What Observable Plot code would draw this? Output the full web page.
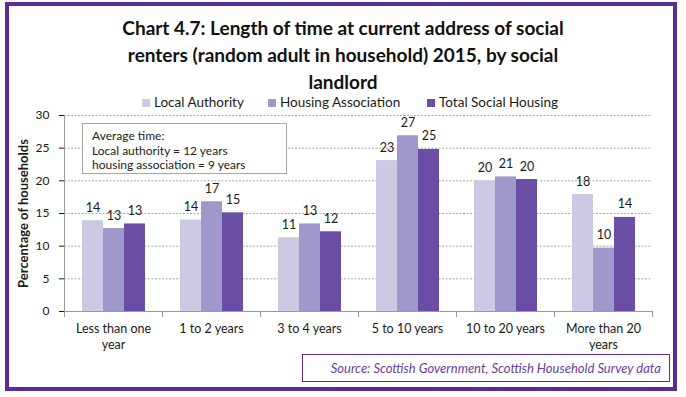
<!DOCTYPE html>
<html>
<head>
<meta charset="utf-8">
<script src="https://cdn.jsdelivr.net/npm/d3@7"></script>
<script src="https://cdn.jsdelivr.net/npm/@observablehq/plot@0.6"></script>
<style>
  html, body { margin: 0; padding: 0; background: #fff; }
  #card { position: relative; width: 686px; height: 397px; background: #fff; font-family: Lato, "Open Sans", sans-serif; color: #1a1a1a; overflow: hidden; }
  #border { position: absolute; left: 5px; top: 2px; width: 672px; height: 389px; box-sizing: border-box; border: 4px solid #5A2D96; }
  #title { position: absolute; left: 5px; width: 676px; top: 14px; text-align: center; font-weight: bold; font-size: 19px; line-height: 27px; color: #111; }
  #legend { position: absolute; top: 94px; left: 0; width: 686px; height: 16px; font-size: 13.5px; }
  .li { position: absolute; top: 0; white-space: nowrap; line-height: 16px; }
  .sw { display: inline-block; width: 8px; height: 8px; margin-right: 4px; vertical-align: 0px; }
  #chart { position: absolute; left: 0; top: 105px; }
  #note { position: absolute; left: 82px; top: 123px; width: 205px; height: 51px; box-sizing: border-box; border: 1.5px solid #a6a6a6; background: #fff; font-size: 12px; line-height: 14.5px; padding: 5px 0 0 9px; color: #222; white-space: nowrap; }
  #source { position: absolute; left: 302px; top: 354px; width: 368px; height: 28px; box-sizing: border-box; border: 1.5px solid #5A2D96; font-size: 13px; font-style: italic; color: #6A3FA0; text-align: right; padding: 5px 8px 0 0; white-space: nowrap; }
  svg [aria-label="y-axis label"] text, svg [aria-label="y-axis label"] { font-weight: bold; font-size: 13px; }
</style>
</head>
<body>
<div id="card">
  <div id="border"></div>
  <div id="title"></div>
  <div id="legend"></div>
  <div id="chart"></div>
  <div id="note"></div>
  <div id="source"></div>
</div>
<script>
// ---- data ----
const titleLines = ["Chart 4.7: Length of time at current address of social", "renters (random adult in household) 2015, by social", "landlord"];
const categories = ["Less than one year", "1 to 2 years", "3 to 4 years", "5 to 10 years", "10 to 20 years", "More than 20 years"];
const tickLabels = ["Less than one\nyear", "1 to 2 years", "3 to 4 years", "5 to 10 years", "10 to 20 years", "More than 20\nyears"];
const series = ["Local Authority", "Housing Association", "Total Social Housing"];
const localAuthority = [13.9, 14.0, 11.3, 23.1, 20.0, 17.9];
const housingAssociation = [12.7, 16.8, 13.4, 26.9, 20.6, 9.7];
const totalSocialHousing = [13.4, 15.1, 12.2, 24.8, 20.2, 14.4];
const yTicks = [0, 5, 10, 15, 20, 25, 30];
const colors = ["#CCC9E4", "#A098CA", "#6A4EA5"];
const yLabel = "Percentage of households";
const noteLines = ["Average time:", "Local authority = 12 years", "housing association = 9 years"];
const sourceText = "Source: Scottish Government, Scottish Household Survey data";

// ---- table ----
const valuesBySeries = [localAuthority, housingAssociation, totalSocialHousing];
const data = [];
categories.forEach((c, i) => series.forEach((s, j) => data.push({category: c, series: s, value: valuesBySeries[j][i]})));
const tickLabelOf = new Map(categories.map((c, i) => [c, tickLabels[i]]));

// ---- html text ----
document.getElementById("title").innerHTML = titleLines.join("<br>");
document.getElementById("note").innerHTML = noteLines.join("<br>");
document.getElementById("source").textContent = sourceText;
const legendLefts = [142, 268, 427];
const legend = document.getElementById("legend");
series.forEach((s, j) => {
  const item = document.createElement("div");
  item.className = "li";
  item.style.left = legendLefts[j] + "px";
  item.innerHTML = `<span class="sw" style="background:${colors[j]}"></span>${s}`;
  legend.appendChild(item);
});

// ---- chart ----
const W = 686, H = 255, mT = 10, mB = 49, mL = 64, mR = 34;
const plotH = H - mT - mB;
const axisColor = "#9a9a9a";

const chart = Plot.plot({
  width: W,
  height: H,
  marginTop: mT,
  marginBottom: mB,
  marginLeft: mL,
  marginRight: mR,
  style: {fontFamily: "Lato, 'Open Sans', sans-serif", fontSize: "12px", color: "#1a1a1a", background: "transparent"},
  fx: {domain: categories, padding: 0, label: null},
  x: {domain: series, paddingInner: 0, paddingOuter: 0.73, axis: null},
  y: {domain: [0, 30], ticks: yTicks, tickSize: 5, tickPadding: 10, label: yLabel, labelAnchor: "center", labelOffset: 46, labelArrow: "none"},
  color: {domain: series, range: colors},
  marks: [
    Plot.ruleY(yTicks.filter(t => t > 0), {stroke: "#a8a8a8", strokeDasharray: "2,1.5", strokeWidth: 1}),
    Plot.barY(data, {fx: "category", x: "series", y: "value", fill: "series"}),
    Plot.text(data, {fx: "category", x: "series", y: "value", text: d => Math.round(d.value), dy: -13, fontSize: 12.5, fill: "#1a1a1a"}),
    Plot.ruleY([0], {stroke: axisColor}),
    Plot.frame({anchor: "left", facetAnchor: "left", stroke: axisColor, insetBottom: -5}),
    Plot.frame({anchor: "left", stroke: axisColor, insetTop: plotH, insetBottom: -5}),
    Plot.frame({anchor: "right", facetAnchor: "right", stroke: axisColor, insetTop: plotH, insetBottom: -5}),
    Plot.axisFx({anchor: "bottom", tickSize: 0, tickPadding: 10, label: null, lineHeight: 1.3, fontSize: 12.5, tickFormat: c => tickLabelOf.get(c)})
  ]
});
document.getElementById("chart").appendChild(chart);
</script>
</body>
</html>
